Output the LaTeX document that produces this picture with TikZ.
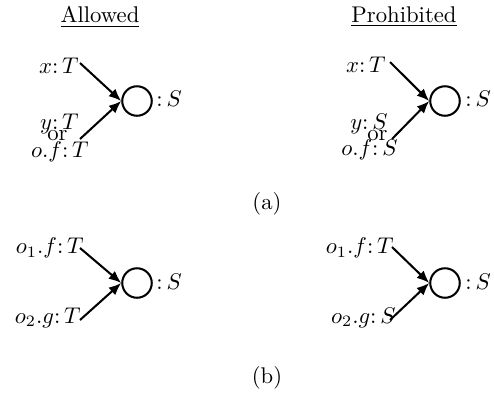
\documentclass[tikz,border=0pt]{standalone}
\usetikzlibrary{arrows.meta}
\begin{document}
\begin{tikzpicture}[x=0.4405pt,y=-0.4405pt,
  cnode/.style={draw,circle,line width=0.9pt,minimum size=13pt,inner sep=0pt},
  lab/.style={anchor=east,inner sep=0pt},
  slab/.style={anchor=west,inner sep=0pt},
  arr/.style={-{Latex[length=5.5pt,width=4.5pt]},line width=0.9pt},
  head/.style={inner sep=0pt}]
\useasboundingbox (0,0) rectangle (494,398);
% headers
\node[head] (hA) at (100,17) {\underline{Allowed}};
\node[head] (hP) at (404,17) {\underline{Prohibited}};
% (a) left
\node[cnode] (c1) at (137,101) {};
\node[slab] (s1) at (156,99) {$\colon S$};
\node[lab] (l1a) at (79,66) {$x\colon T$};
\node[lab] (l1b) at (79,124) {$y\colon T$};
\node[lab] (l1c) at (68,136) {or};
\node[lab] (l1d) at (89,152) {$o.f\colon T$};
\coordinate (p1a) at (80,63);
\coordinate (p1b) at (80,139);
\draw[arr] (p1a) -- (c1.west);
\draw[arr] (p1b) -- (c1.west);
% (a) right
\node[cnode] (c2) at (445,101) {};
\node[slab] (s2) at (465,99) {$\colon S$};
\node[lab] (l2a) at (386,65) {$x\colon T$};
\node[lab] (l2b) at (388,124) {$y\colon S$};
\node[lab] (l2c) at (388,136) {or};
\node[lab] (l2d) at (398,150) {$o.f\colon S$};
\coordinate (p2a) at (390,62);
\coordinate (p2b) at (392,139);
\draw[arr] (p2a) -- (c2.west);
\draw[arr] (p2b) -- (c2.west);
\node[head] (capa) at (267,204) {(a)};
% (b) left
\node[cnode] (c3) at (137,283) {};
\node[slab] (s3) at (156,282) {$\colon S$};
\node[lab] (l3a) at (84,248) {$o_1.f\colon T$};
\node[lab] (l3b) at (81,318) {$o_2.g\colon T$};
\coordinate (p3a) at (80,248);
\coordinate (p3b) at (80,320);
\draw[arr] (p3a) -- (c3.west);
\draw[arr] (p3b) -- (c3.west);
% (b) right
\node[cnode] (c4) at (445,283) {};
\node[slab] (s4) at (465,282) {$\colon S$};
\node[lab] (l4a) at (394,248) {$o_1.f\colon T$};
\node[lab] (l4b) at (396,318) {$o_2.g\colon S$};
\coordinate (p4a) at (392,247);
\coordinate (p4b) at (390,320);
\draw[arr] (p4a) -- (c4.west);
\draw[arr] (p4b) -- (c4.west);
\node[head] (capb) at (267,378) {(b)};
\end{tikzpicture}
\end{document}
